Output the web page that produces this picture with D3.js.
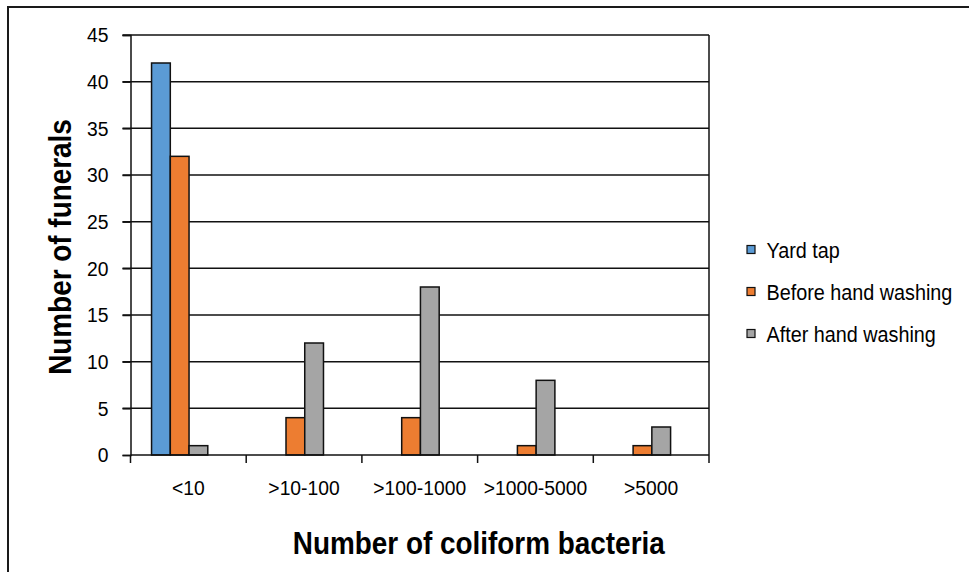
<!DOCTYPE html>
<html>
<head>
<meta charset="utf-8">
<script src="https://cdn.jsdelivr.net/npm/d3@7/dist/d3.min.js"></script>
<style>
  html, body { margin: 0; padding: 0; background: #fff; }
  svg { display: block; font-family: "Liberation Sans", Arial, sans-serif; }
</style>
</head>
<body>
<svg id="chart" width="969" height="572"></svg>
<script>
// Coliform counts per funeral, grouped by contamination band
const categories = ["<10", ">10-100", ">100-1000", ">1000-5000", ">5000"];
const seriesNames = ["Yard tap", "Before hand washing", "After hand washing"];
const yardTap = [42, 0, 0, 0, 0];
const beforeWashing = [32, 4, 4, 1, 1];
const afterWashing = [1, 12, 18, 8, 3];
const seriesColors = ["#5B9BD5", "#ED7D31", "#A5A5A5"];
const yTicks = [0, 5, 10, 15, 20, 25, 30, 35, 40, 45];

const seriesValues = [yardTap, beforeWashing, afterWashing];

const svg = d3.select("#chart");
const W = 969, H = 572;
const plot = { left: 130.5, right: 709, top: 35, bottom: 455 };
const narrow = 0.9; // condensed lettering

// outer frame (runs off the right and bottom edges)
svg.append("path")
  .attr("d", `M8,${H + 5} L8,7 L${W + 5},7`)
  .attr("fill", "none")
  .attr("stroke", "#1a1a1a")
  .attr("stroke-width", 2);

const x0 = d3.scaleBand().domain(categories).range([plot.left, plot.right]).padding(0);
const bw = x0.bandwidth();
// three bars per group, laid out in four equal slots with a gap on the left
const x1 = d3.scaleBand().domain(seriesNames)
  .range([bw * 0.182, bw * 0.182 + bw * 0.162 * 3]).padding(0);
const y = d3.scaleLinear().domain([0, 45]).range([plot.bottom, plot.top]);

// horizontal gridlines
svg.append("g")
  .selectAll("line")
  .data(yTicks.filter(t => t > 0))
  .join("line")
  .attr("x1", plot.left - 8)
  .attr("x2", plot.right)
  .attr("y1", d => y(d))
  .attr("y2", d => y(d))
  .attr("stroke", "#111")
  .attr("stroke-width", 1.5);

// right edge of plot area
svg.append("line")
  .attr("x1", plot.right).attr("x2", plot.right)
  .attr("y1", plot.top).attr("y2", plot.bottom)
  .attr("stroke", "#111").attr("stroke-width", 1.5);

// bars
const groups = svg.append("g")
  .selectAll("g")
  .data(categories)
  .join("g")
  .attr("transform", d => `translate(${x0(d)},0)`);

groups.selectAll("rect")
  .data((c, ci) => seriesNames.map((s, si) => ({ s, si, v: seriesValues[si][ci] })).filter(d => d.v > 0))
  .join("rect")
  .attr("x", d => x1(d.s))
  .attr("width", x1.bandwidth())
  .attr("y", d => y(d.v))
  .attr("height", d => y(0) - y(d.v))
  .attr("fill", d => seriesColors[d.si])
  .attr("stroke", "#111")
  .attr("stroke-width", 1.5);

// y axis
const yAxis = d3.axisLeft(y).tickValues(yTicks).tickSize(8).tickPadding(16);
const gy = svg.append("g")
  .attr("transform", `translate(${plot.left},0)`)
  .call(yAxis);
gy.select(".domain").attr("stroke", "#111").attr("stroke-width", 1.5);
gy.selectAll(".tick line").attr("stroke", "#111").attr("stroke-width", 1.5);
gy.selectAll(".tick text")
  .attr("font-size", 21)
  .attr("fill", "#000")
  .attr("font-family", "Liberation Sans, Arial, sans-serif")
  .attr("transform", `scale(0.92,1)`);

// x axis with ticks on category boundaries
svg.append("line")
  .attr("x1", plot.left).attr("x2", plot.right)
  .attr("y1", plot.bottom).attr("y2", plot.bottom)
  .attr("stroke", "#111").attr("stroke-width", 1.5);

const boundaries = categories.map(c => x0(c)).concat([plot.right]);
svg.append("g")
  .selectAll("line")
  .data(boundaries)
  .join("line")
  .attr("x1", d => d).attr("x2", d => d)
  .attr("y1", plot.bottom).attr("y2", plot.bottom + 8)
  .attr("stroke", "#111").attr("stroke-width", 1.5);

svg.append("g")
  .selectAll("text")
  .data(categories)
  .join("text")
  .attr("transform", d => `translate(${x0(d) + bw / 2},495) scale(0.92,1)`)
  .attr("text-anchor", "middle")
  .attr("font-size", 21)
  .attr("fill", "#000")
  .text(d => d);

// axis titles
svg.append("text")
  .attr("transform", `translate(${(plot.left + plot.right) / 2 + 59},554) scale(${narrow},1)`)
  .attr("text-anchor", "middle")
  .attr("font-size", 31)
  .attr("font-weight", "bold")
  .attr("fill", "#000")
  .text("Number of coliform bacteria");

svg.append("text")
  .attr("transform", `translate(71,247) rotate(-90) scale(${narrow},1)`)
  .attr("text-anchor", "middle")
  .attr("font-size", 31)
  .attr("font-weight", "bold")
  .attr("fill", "#000")
  .text("Number of funerals");

// legend
const legend = svg.append("g")
  .selectAll("g")
  .data(seriesNames)
  .join("g")
  .attr("transform", (d, i) => `translate(747,${250 + i * 42})`);

legend.append("rect")
  .attr("x", 0).attr("y", -4.5)
  .attr("width", 8).attr("height", 8)
  .attr("fill", (d, i) => seriesColors[i])
  .attr("stroke", "#111")
  .attr("stroke-width", 1.2);

legend.append("text")
  .attr("transform", `translate(19.5,8) scale(${narrow},1)`)
  .attr("font-size", 22)
  .attr("fill", "#000")
  .text(d => d);
</script>
</body>
</html>
